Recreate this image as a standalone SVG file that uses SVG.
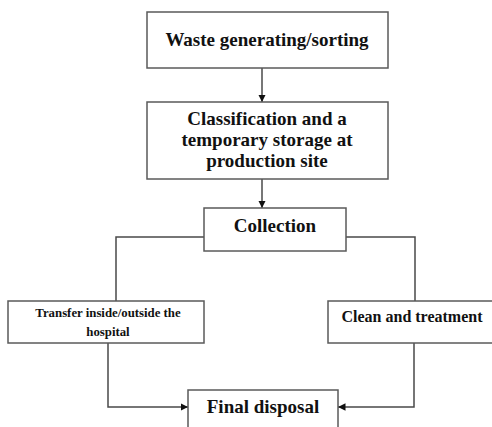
<svg xmlns="http://www.w3.org/2000/svg" width="492" height="427" viewBox="0 0 492 427">
<defs>
<style>
.box{fill:#fff;stroke:#5a5a5a;stroke-width:1.5}
.ln{fill:none;stroke:#4a4a4a;stroke-width:1.5}
.t{font-family:"Liberation Serif","Times New Roman",serif;font-weight:bold;fill:#111;text-anchor:middle;font-size:19px}
.s{font-family:"Liberation Serif","Times New Roman",serif;font-weight:bold;fill:#111;text-anchor:middle}
</style>
<marker id="ah" viewBox="0 0 10 10" refX="10" refY="5" markerWidth="5" markerHeight="5" orient="auto">
<path d="M0,0 L10,5 L0,10 z" fill="#111"/>
</marker>
</defs>
<rect width="492" height="427" fill="#fff"/>
<g id="connectors">
<path class="ln" d="M262,68 V102" marker-end="url(#ah)"/>
<path class="ln" d="M262,179 V208" marker-end="url(#ah)"/>
<path class="ln" d="M204,237 H116 V301"/>
<path class="ln" d="M346,237 H415 V301"/>
<path class="ln" d="M108,343 V407 H188" marker-end="url(#ah)"/>
<path class="ln" d="M414,343 V407 H338" marker-end="url(#ah)"/>
</g>
<g id="n1">
<rect class="box" x="147" y="12" width="241" height="56"/>
<text class="t" x="267" y="46">Waste generating/sorting</text>
</g>
<g id="n2">
<rect class="box" x="147" y="102" width="241" height="77"/>
<text class="t" x="267" y="125">Classification and a</text>
<text class="t" x="267" y="146">temporary storage at</text>
<text class="t" x="267" y="167">production site</text>
</g>
<g id="n3">
<rect class="box" x="204" y="208" width="142" height="43"/>
<text class="t" x="275" y="232">Collection</text>
</g>
<g id="n4">
<rect class="box" x="8" y="301" width="196" height="42"/>
<text class="s" x="108" y="317" font-size="12.8">Transfer inside/outside the</text>
<text class="s" x="108" y="336" font-size="12.8">hospital</text>
</g>
<g id="n5">
<rect class="box" x="328" y="301" width="170" height="42"/>
<text class="s" x="412" y="322" font-size="16">Clean and treatment</text>
</g>
<g id="n6">
<rect class="box" x="188" y="390" width="150" height="45"/>
<text class="t" x="263" y="413">Final disposal</text>
</g>
</svg>
